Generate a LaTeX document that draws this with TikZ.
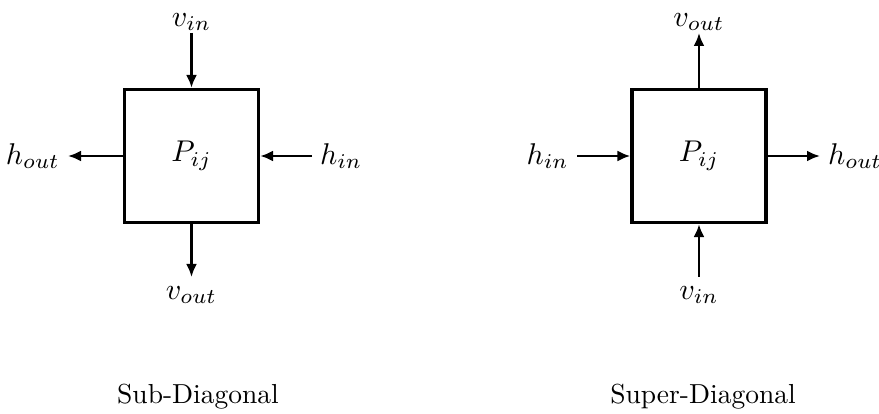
\documentclass[tikz,border=0pt]{standalone}
\usetikzlibrary{arrows.meta}
% 10pt Computer Modern, magnified, for the labels and captions
\newcommand\bigmath[1]{\scalebox{3.0}{$#1$}}
\newcommand\bigtext[1]{\scalebox{2.75}{#1}}
\begin{document}
\begin{tikzpicture}[x=1pt,y=-1pt,
  cell/.style={draw, line width=3.2pt, minimum width=134pt, minimum height=133pt,
               inner sep=0pt},
  sig/.style={inner sep=2pt},
  sigh/.style={inner xsep=8pt, inner ysep=2pt},
  siglow/.style={inner xsep=2pt, inner ysep=9pt},
  flow/.style={line width=2.9pt, -{Latex[length=13pt,width=11pt]}},
  caption/.style={inner sep=0pt, anchor=base}]
\useasboundingbox (0,0) rectangle (879,414);

% sub-diagonal processor
\node[cell] (L) at (191.5,156) {\bigmath{P_{ij}}};
\coordinate (Ltop) at (191.5,33);
\coordinate (Lbot) at (191.5,277);
\coordinate (Lleft) at (68,156);
\coordinate (Lright) at (312,156);
\node[sig, anchor=south] (Lvin) at (Ltop) {\bigmath{v_{in}}};
\node[siglow, anchor=north] (Lvout) at (Lbot) {\bigmath{v_{out}}};
\node[sigh, anchor=east] (Lhout) at (Lleft) {\bigmath{h_{out}}};
\node[sigh, anchor=west] (Lhin) at (Lright) {\bigmath{h_{in}}};
\draw[flow] (Ltop) -- (L.north);
\draw[flow] (L.south) -- (Lbot);
\draw[flow] (L.west) -- (Lleft);
\draw[flow] (Lright) -- (L.east);
\node[caption] (Lcap) at (198,403) {\bigtext{Sub-Diagonal}};

% super-diagonal processor
\node[cell] (R) at (699,156) {\bigmath{P_{ij}}};
\coordinate (Rtop) at (699,33);
\coordinate (Rbot) at (699,277);
\coordinate (Rleft) at (577,156);
\coordinate (Rright) at (820,156);
\node[sig, anchor=south] (Rvout) at (Rtop) {\bigmath{v_{out}}};
\node[siglow, anchor=north] (Rvin) at (Rbot) {\bigmath{v_{in}}};
\node[sigh, anchor=east] (Rhin) at (Rleft) {\bigmath{h_{in}}};
\node[sigh, anchor=west] (Rhout) at (Rright) {\bigmath{h_{out}}};
\draw[flow] (R.north) -- (Rtop);
\draw[flow] (Rbot) -- (R.south);
\draw[flow] (Rleft) -- (R.west);
\draw[flow] (R.east) -- (Rright);
\node[caption] (Rcap) at (703,403) {\bigtext{Super-Diagonal}};
\end{tikzpicture}
\end{document}
